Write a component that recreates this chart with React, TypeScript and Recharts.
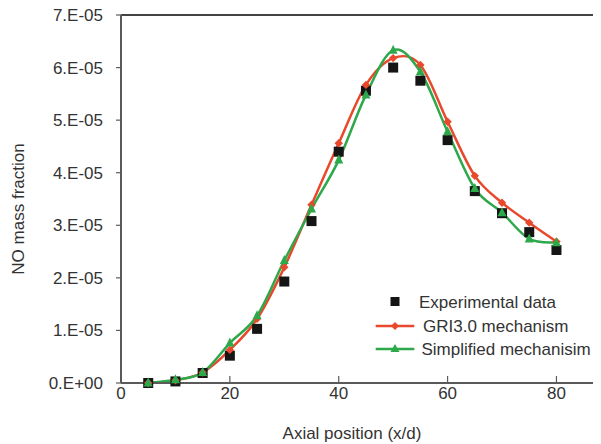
import React from 'react';
import { ComposedChart, Line, XAxis, YAxis, ReferenceLine, Legend, Customized } from 'recharts';

// Axial position (x/d)
const positions = [5, 10, 15, 20, 25, 30, 35, 40, 45, 50, 55, 60, 65, 70, 75, 80];
// NO mass fraction, in units of 1E-05
const experimental = [0, 0.03, 0.19, 0.52, 1.03, 1.93, 3.08, 4.4, 5.56, 6.0, 5.75, 4.62, 3.65, 3.23, 2.87, 2.53];
const gri30 = [0, 0.05, 0.2, 0.63, 1.22, 2.2, 3.39, 4.56, 5.67, 6.18, 6.05, 4.97, 3.94, 3.43, 3.05, 2.69];
const simplified = [0, 0.06, 0.2, 0.76, 1.28, 2.33, 3.31, 4.24, 5.48, 6.33, 5.92, 4.78, 3.7, 3.24, 2.74, 2.67];

const xTicks = [0, 20, 40, 60, 80];
const yTicks = [0, 1, 2, 3, 4, 5, 6, 7];
const yTickLabels = ['0.E+00', '1.E-05', '2.E-05', '3.E-05', '4.E-05', '5.E-05', '6.E-05', '7.E-05'];

const seriesNames = ['Experimental data', 'GRI3.0 mechanism', 'Simplified mechanisim'];

const data = positions.map((x, i) => ({
  x,
  exp: experimental[i],
  gri: gri30[i],
  sim: simplified[i],
}));

const FONT = '"Liberation Sans", Arial, sans-serif';
const TEXT = '#333333';
const AXIS = '#5a5a5a';
const RED = '#E8492C';
const GREEN = '#2DA84A';
const BLACK = '#151515';

// Excel-like smoothed line (Catmull-Rom style bezier)
const smoothCurve: any = (context: any) => {
  let pts: number[][] = [];
  return {
    areaStart() {},
    areaEnd() {},
    lineStart() { pts = []; },
    point(x: number, y: number) { pts.push([+x, +y]); },
    lineEnd() {
      if (!pts.length) return;
      context.moveTo(pts[0][0], pts[0][1]);
      for (let i = 0; i < pts.length - 1; i++) {
        const p0 = pts[i - 1] || pts[i];
        const p1 = pts[i];
        const p2 = pts[i + 1];
        const p3 = pts[i + 2] || p2;
        const k = 1 / 6;
        context.bezierCurveTo(
          p1[0] + (p2[0] - p0[0]) * k, p1[1] + (p2[1] - p0[1]) * k,
          p2[0] - (p3[0] - p1[0]) * k, p2[1] - (p3[1] - p1[1]) * k,
          p2[0], p2[1]
        );
      }
    },
  };
};

const SquareDot = (props: any) => {
  const { cx, cy } = props;
  if (cx == null || cy == null) return null;
  return <rect x={cx - 5} y={cy - 5} width={10} height={10} fill={BLACK} />;
};
const DiamondDot = (props: any) => {
  const { cx, cy } = props;
  if (cx == null || cy == null) return null;
  const r = 4.2;
  return <path d={`M${cx},${cy - r}L${cx + r},${cy}L${cx},${cy + r}L${cx - r},${cy}Z`} fill={RED} />;
};
const TriangleDot = (props: any) => {
  const { cx, cy } = props;
  if (cx == null || cy == null) return null;
  return <path d={`M${cx},${cy - 5.5}L${cx + 4.5},${cy + 3.5}L${cx - 4.5},${cy + 3.5}Z`} fill={GREEN} />;
};

const XTick = (props: any) => {
  const { x, y, payload } = props;
  return (
    <g>
      <line x1={x} x2={x} y1={y} y2={y - 7} stroke={AXIS} strokeWidth={1.2} />
      <text x={x} y={y + 16} textAnchor="middle" fill={TEXT} fontSize={17} fontFamily={FONT}>
        {payload.value}
      </text>
    </g>
  );
};

const renderLegend = () => (
  <svg width={240} height={80} style={{ display: 'block' }}>
    <g fontFamily={FONT} fontSize={17} fill={TEXT}>
      <rect x={30.5} y={9} width={9} height={9} fill={BLACK} />
      <text x={59} y={13.7} dy="0.36em">{seriesNames[0]}</text>
      <line x1={15.7} x2={54.3} y1={38} y2={38} stroke={RED} strokeWidth={2.5} />
      <path d="M35,34L39,38L35,42L31,38Z" fill={RED} />
      <text x={63} y={38} dy="0.36em">{seriesNames[1]}</text>
      <line x1={15.7} x2={54.3} y1={61} y2={61} stroke={GREEN} strokeWidth={2.5} />
      <path d="M35,56L39.5,64L30.5,64Z" fill={GREEN} />
      <text x={61.5} y={61} dy="0.36em">{seriesNames[2]}</text>
    </g>
  </svg>
);

const Titles = () => (
  <g fontFamily={FONT} fontSize={17} fill={TEXT}>
    <text x={352} y={438.5} textAnchor="middle">Axial position (x/d)</text>
    <text x={18} y={209} textAnchor="middle" dominantBaseline="central" transform="rotate(-90 18 209)">
      NO mass fraction
    </text>
  </g>
);

export default function App() {
  return (
    <div style={{ margin: '-8px 0 0 -8px', width: 601, height: 444 }}>
      <ComposedChart
        width={601}
        height={444}
        data={data}
        margin={{ top: 15, right: 1, bottom: 0, left: 0 }}
        style={{ fontFamily: FONT }}
      >
        <XAxis
          type="number"
          dataKey="x"
          domain={[0, 88]}
          ticks={xTicks}
          height={61}
          tickSize={0}
          tickMargin={0}
          tickLine={false}
          tick={<XTick />}
          axisLine={{ stroke: AXIS, strokeWidth: 2 }}
          allowDataOverflow
        />
        <YAxis
          type="number"
          domain={[0, 7]}
          ticks={yTicks}
          width={121}
          tickSize={5}
          tickMargin={13}
          tickLine={{ stroke: AXIS, strokeWidth: 1.2 }}
          axisLine={{ stroke: AXIS, strokeWidth: 2 }}
          tick={{ fill: TEXT, fontSize: 17, fontFamily: FONT }}
          tickFormatter={(v: number) => yTickLabels[yTicks.indexOf(v)]}
          interval={0}
        />
        <ReferenceLine y={7} stroke="#444444" strokeWidth={2} />
        <Line
          dataKey="exp"
          name={seriesNames[0]}
          stroke="none"
          dot={<SquareDot />}
          activeDot={false}
          isAnimationActive={false}
        />
        <Line
          dataKey="gri"
          name={seriesNames[1]}
          type={smoothCurve}
          stroke={RED}
          strokeWidth={2.5}
          dot={<DiamondDot />}
          activeDot={false}
          isAnimationActive={false}
        />
        <Line
          dataKey="sim"
          name={seriesNames[2]}
          type={smoothCurve}
          stroke={GREEN}
          strokeWidth={2.5}
          dot={<TriangleDot />}
          activeDot={false}
          isAnimationActive={false}
        />
        <Legend
          layout="vertical"
          align="center"
          verticalAlign="middle"
          content={renderLegend}
          wrapperStyle={{ position: 'absolute', left: 360, top: 288, width: 240, height: 80 }}
        />
        <Customized component={Titles} />
      </ComposedChart>
    </div>
  );
}
